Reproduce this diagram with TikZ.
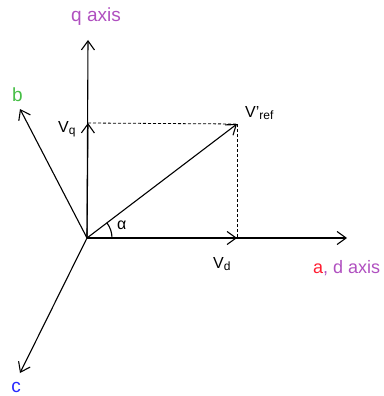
\documentclass[tikz,border=0pt]{standalone}
\usepackage{fontspec}
\setmainfont{Liberation Sans}
\usetikzlibrary{arrows.meta}
\definecolor{qpurple}{RGB}{176,80,192}
\definecolor{ared}{RGB}{255,30,50}
\definecolor{bgreen}{RGB}{70,190,70}
\definecolor{cblue}{RGB}{40,40,255}
\newcommand{\sub}[1]{\raisebox{-0.3ex}{\fontsize{12}{12}\selectfont #1}}
\begin{document}
\begin{tikzpicture}[x=1pt,y=-1pt,
  axis/.style={line width=1.1pt,-{Straight Barb[length=9pt,width=13pt,line width=1.1pt]}},
  guide/.style={line width=0.8pt,dash pattern=on 3pt off 2pt},
  lbl/.style={inner sep=0pt,font=\fontsize{19}{19}\selectfont},
  vlbl/.style={inner sep=0pt,anchor=base west,font=\fontsize{16}{16}\selectfont}]
\useasboundingbox (0,0) rectangle (383,396);
\coordinate (O) at (87,238);
\coordinate (qend) at (88,40);
\coordinate (dend) at (347,238);
\coordinate (vd) at (237,238);
\coordinate (vq) at (88,123);
\coordinate (vref) at (237,124);
\coordinate (bend) at (20,109);
\coordinate (cend) at (20,373);
% axes
\draw[axis] (O) -- (qend);
\draw[axis] (O) -- (dend);
\draw[axis] (O) -- (bend);
\draw[axis] (O) -- (cend);
% components
\draw[axis] (O) -- (vd);
\draw[axis] (O) -- (vq);
\draw[axis] (O) -- (vref);
% projections
\draw[guide] (vq) -- (vref);
\draw[guide] (vref) -- (vd);
% angle
\draw[line width=1.1pt] ([xshift=25pt]O) arc[start angle=0,end angle=37.2,radius=25pt];
% labels
\node[lbl,text=qpurple] (ql) at (96,17) {q axis};
\node[lbl,anchor=west,font=\fontsize{18}{18}\selectfont] (dl) at (313,268) {\textcolor{ared}{a}\textcolor{qpurple}{, d axis}};
\node[lbl,text=bgreen] (bl) at (17.5,95) {b};
\node[lbl,text=cblue] (cl) at (16,387) {c};
\node[vlbl] (vrefl) at (245,117) {V’\sub{ref}};
\node[vlbl] (vql) at (58,132) {V\sub{q}};
\node[vlbl] (vdl) at (213,268) {V\sub{d}};
\node[vlbl] (al) at (117,229) {α};
\end{tikzpicture}
\end{document}
